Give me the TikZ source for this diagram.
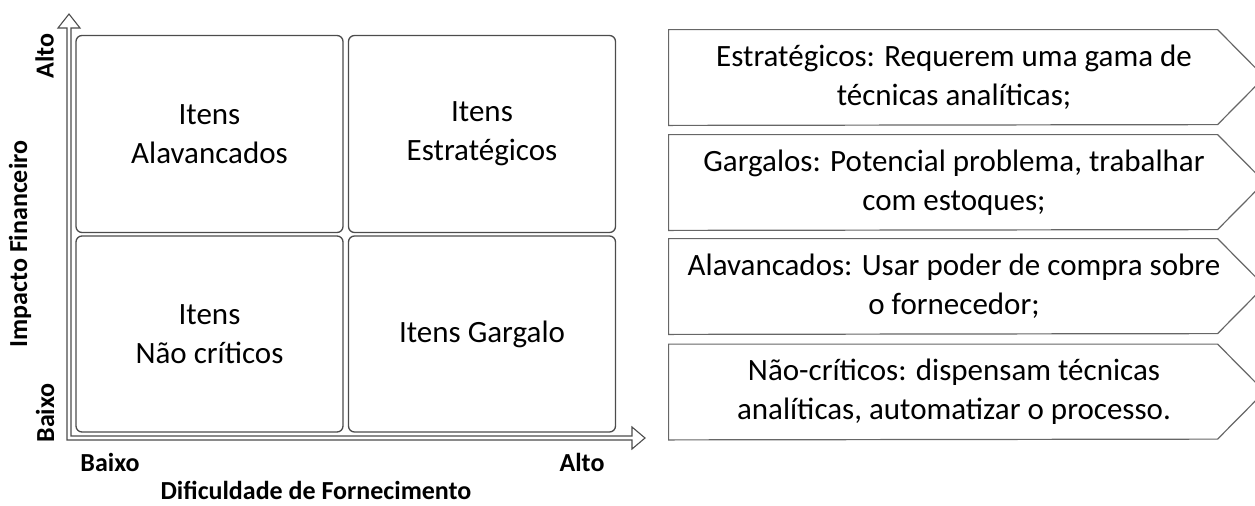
\documentclass[tikz,border=0pt]{standalone}
\usepackage{fontspec}
\setmainfont{Carlito}

\begin{document}
\begin{tikzpicture}[x=0.5pt,y=-0.5pt,  % one unit = one pixel of the layout
    quad/.style={
      draw=black!70,
      line width=0.65pt,
      rounded corners=3pt,
      minimum width=133.5pt,
      minimum height=98pt,
      align=center,
      font=\fontsize{15.5}{19.5}\selectfont
    },
    chev/.style={
      minimum width=285pt,
      minimum height=47.5pt,
      inner sep=0pt,
      align=center,
      font=\fontsize{15.5}{19.5}\selectfont
    },
    chevline/.style={draw=black!60,line width=0.6pt},
    axlabel/.style={inner sep=0.5pt,font=\fontsize{13}{15}\selectfont\bfseries}
  ]
    \useasboundingbox (0,0) rectangle (1255,505);

    % Axes (hollow L-shaped arrow)
    \draw[black!70,line width=0.55pt] (67,440) -- (67,28) -- (58,28) -- (69,14)
      -- (80,28) -- (71,28) -- (71,436) -- (632,436) -- (632,427)
      -- (645,438) -- (632,449) -- (632,440) -- cycle;

    % Quadrants
    \node[quad,minimum height=98.5pt] (alav) at (209.5,134) {Itens\\Alavancados};
    \node[quad,minimum height=98.5pt] (estr) at (482,134) {Itens\\Estratégicos};
    \node[quad] (naocr) at (209.5,334) {Itens\\Não críticos};
    \node[quad] (garg) at (482,334) {Itens Gargalo};

    % Axis labels
    \node[axlabel,rotate=90] (altoY) at (44.5,56) {Alto};
    \node[axlabel,rotate=90] (baixoY) at (45,413) {Baixo};
    \node[axlabel,rotate=90] (impacto) at (20,244) {Impacto Financeiro};
    \node[axlabel] (baixoX) at (110,462) {Baixo};
    \node[axlabel] (altoX) at (582,462) {Alto};
    \node[axlabel] (dific) at (316,490) {Dificuldade de Fornecimento};

    % Chevrons on the right
    \foreach \n/\y/\txt in {
        strat/77.5/{Estratégicos: Requerem uma gama de\\técnicas analíticas;},
        garg/182.5/{Gargalos: Potencial problema, trabalhar\\com estoques;},
        alav/286.5/{Alavancados: Usar poder de compra sobre\\o fornecedor;},
        naoc/392/{Não-críticos: dispensam técnicas\\analíticas, automatizar o processo.}} {
      \node[chev] (c\n) at (954,\y) {\txt};
      \draw[chevline] (c\n.north west) -- ++(549,0) -- ++(47,47.5)
        -- ++(-47,47.5) -- (c\n.south west) -- cycle;
    }

\end{tikzpicture}
\end{document}
